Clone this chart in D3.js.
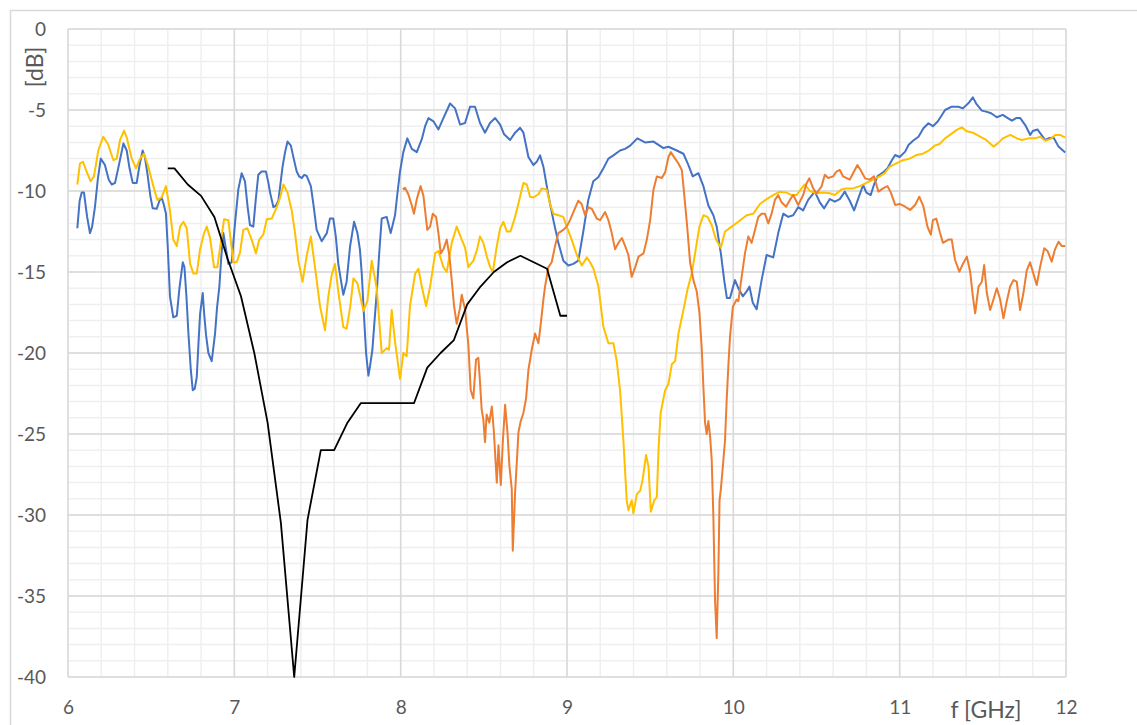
<!DOCTYPE html>
<html>
<head>
<meta charset="utf-8">
<script src="https://cdn.jsdelivr.net/npm/d3@7"></script>
<style>
  body { margin: 0; background: #fff; }
  .tick text { font-family: Lato, "Liberation Sans", sans-serif; font-size: 19px; fill: #595959; }
  .lbl { font-family: Lato, "Liberation Sans", sans-serif; font-size: 23px; fill: #595959; }
</style>
</head>
<body>
<div id="container"></div>
<script>
/* DATA  [f GHz, dB] */
const xTicks = [6, 7, 8, 9, 10, 11, 12]
const yTicks = [0, -5, -10, -15, -20, -25, -30, -35, -40]

const blue = [[6.056,-12.3],[6.07,-10.6],[6.082,-10.1],[6.096,-10.1],[6.115,-11.6],[6.132,-12.6],[6.145,-12.2],[6.162,-11.0],[6.18,-9.2],[6.197,-8.0],[6.222,-8.4],[6.245,-9.3],[6.263,-9.6],[6.283,-9.5],[6.31,-8.2],[6.333,-7.06],[6.353,-7.5],[6.37,-8.6],[6.389,-9.5],[6.413,-9.5],[6.43,-8.4],[6.449,-7.5],[6.462,-7.9],[6.477,-8.9],[6.495,-10.3],[6.509,-11.07],[6.533,-11.1],[6.55,-10.6],[6.563,-10.4],[6.575,-10.8],[6.589,-11.4],[6.6,-13.5],[6.613,-16.5],[6.633,-17.8],[6.654,-17.7],[6.67,-16.0],[6.69,-14.4],[6.70,-14.7],[6.712,-16.5],[6.724,-18.8],[6.738,-21.0],[6.75,-22.3],[6.762,-22.2],[6.774,-21.5],[6.784,-19.5],[6.794,-17.6],[6.81,-16.3],[6.818,-17.5],[6.83,-18.9],[6.844,-20.0],[6.864,-20.5],[6.884,-18.8],[6.896,-17.2],[6.91,-15.9],[6.922,-14.0],[6.934,-12.6],[6.95,-13.6],[6.964,-14.5],[6.984,-14.4],[7.004,-12.0],[7.024,-9.9],[7.044,-8.9],[7.064,-9.4],[7.08,-11.0],[7.094,-12.1],[7.114,-12.2],[7.13,-10.4],[7.144,-9.0],[7.164,-8.8],[7.19,-8.8],[7.205,-9.5],[7.215,-10.1],[7.235,-11.0],[7.25,-10.9],[7.265,-10.6],[7.278,-9.5],[7.29,-8.5],[7.305,-7.6],[7.32,-6.95],[7.34,-7.2],[7.357,-8.0],[7.375,-8.8],[7.39,-9.1],[7.405,-9.2],[7.42,-9.0],[7.435,-9.07],[7.46,-9.7],[7.475,-10.8],[7.495,-12.4],[7.525,-13.1],[7.556,-12.6],[7.575,-11.7],[7.595,-11.7],[7.61,-12.8],[7.625,-14.5],[7.655,-16.4],[7.675,-15.6],[7.696,-13.4],[7.72,-11.9],[7.74,-12.6],[7.755,-13.6],[7.766,-15.1],[7.78,-17.8],[7.792,-20.0],[7.806,-21.4],[7.816,-20.8],[7.83,-19.8],[7.843,-18.0],[7.856,-16.3],[7.87,-14.0],[7.886,-11.7],[7.916,-11.6],[7.94,-12.6],[7.966,-11.5],[7.98,-10.2],[7.996,-8.8],[8.016,-7.6],[8.04,-6.75],[8.067,-7.4],[8.097,-7.6],[8.127,-6.8],[8.147,-6.0],[8.167,-5.5],[8.197,-5.7],[8.227,-6.2],[8.257,-5.5],[8.297,-4.6],[8.327,-4.9],[8.357,-5.9],[8.387,-5.8],[8.417,-4.8],[8.447,-4.8],[8.477,-5.8],[8.507,-6.4],[8.537,-5.8],[8.568,-5.5],[8.598,-5.9],[8.622,-6.5],[8.658,-6.85],[8.688,-6.4],[8.718,-6.1],[8.738,-6.4],[8.768,-7.9],[8.798,-8.4],[8.818,-8.2],[8.838,-7.8],[8.858,-8.5],[8.888,-10.25],[8.918,-11.8],[8.948,-13.2],[8.978,-14.3],[9.008,-14.6],[9.038,-14.5],[9.068,-14.3],[9.098,-12.5],[9.128,-10.55],[9.158,-9.4],[9.188,-9.15],[9.219,-8.6],[9.249,-8.0],[9.279,-7.8],[9.319,-7.5],[9.349,-7.4],[9.38,-7.2],[9.423,-6.75],[9.469,-7.0],[9.52,-6.95],[9.58,-7.35],[9.61,-7.27],[9.66,-7.5],[9.7,-7.7],[9.73,-8.4],[9.756,-9.1],[9.79,-8.9],[9.82,-9.7],[9.85,-10.9],[9.88,-11.5],[9.9,-12.2],[9.925,-13.85],[9.945,-15.5],[9.961,-16.6],[9.98,-16.6],[10.01,-15.5],[10.03,-16.0],[10.057,-16.5],[10.08,-16.2],[10.097,-15.9],[10.117,-16.9],[10.14,-17.3],[10.17,-15.5],[10.2,-13.95],[10.24,-14.1],[10.27,-12.6],[10.3,-11.4],[10.33,-11.6],[10.36,-11.5],[10.39,-11.0],[10.42,-11.2],[10.45,-10.55],[10.49,-10.04],[10.52,-10.7],[10.546,-11.07],[10.58,-10.5],[10.61,-10.66],[10.64,-10.5],[10.67,-10.04],[10.70,-10.6],[10.726,-11.2],[10.75,-10.5],[10.78,-9.63],[10.80,-10.1],[10.826,-10.25],[10.846,-9.6],[10.867,-9.1],[10.90,-8.85],[10.927,-8.6],[10.953,-8.1],[10.973,-7.78],[11.0,-7.9],[11.033,-7.57],[11.053,-7.16],[11.08,-6.9],[11.113,-6.65],[11.143,-6.13],[11.173,-5.82],[11.20,-6.0],[11.23,-5.7],[11.273,-5.0],[11.31,-4.8],[11.353,-4.8],[11.38,-4.9],[11.413,-4.59],[11.44,-4.22],[11.46,-4.6],[11.494,-5.04],[11.52,-5.1],[11.55,-5.2],[11.584,-5.45],[11.62,-5.3],[11.65,-5.5],[11.675,-5.66],[11.70,-5.5],[11.725,-5.5],[11.755,-5.93],[11.785,-6.54],[11.80,-6.3],[11.828,-6.2],[11.85,-6.5],[11.875,-6.85],[11.895,-6.75],[11.925,-6.7],[11.955,-7.26],[11.995,-7.63]]

const yellow = [[6.056,-9.6],[6.072,-8.3],[6.09,-8.2],[6.112,-8.8],[6.136,-9.4],[6.156,-9.1],[6.182,-7.5],[6.212,-6.65],[6.24,-7.1],[6.273,-8.1],[6.293,-8.0],[6.313,-6.85],[6.337,-6.27],[6.353,-6.7],[6.383,-8.0],[6.409,-8.6],[6.433,-8.0],[6.457,-7.7],[6.483,-8.5],[6.513,-9.7],[6.537,-10.55],[6.563,-10.4],[6.589,-9.7],[6.613,-11.2],[6.633,-13.0],[6.654,-13.4],[6.674,-12.2],[6.694,-11.9],[6.714,-12.3],[6.734,-14.5],[6.754,-15.1],[6.774,-15.1],[6.794,-13.6],[6.818,-12.6],[6.834,-12.2],[6.854,-12.9],[6.878,-14.7],[6.898,-14.7],[6.918,-13.2],[6.938,-11.75],[6.964,-11.8],[6.978,-13.0],[6.994,-14.4],[7.014,-14.4],[7.034,-13.8],[7.054,-12.4],[7.078,-12.3],[7.104,-13.0],[7.13,-13.85],[7.15,-13.0],[7.174,-12.7],[7.195,-11.75],[7.225,-11.7],[7.255,-11.0],[7.275,-10.4],[7.295,-9.6],[7.32,-10.1],[7.345,-11.2],[7.365,-12.6],[7.385,-14.3],[7.41,-15.6],[7.435,-14.0],[7.46,-12.8],[7.485,-14.7],[7.515,-17.1],[7.545,-18.6],[7.565,-16.5],[7.585,-15.2],[7.605,-14.5],[7.625,-16.2],[7.655,-18.4],[7.675,-18.5],[7.696,-17.2],[7.716,-15.4],[7.74,-15.7],[7.776,-17.4],[7.80,-16.8],[7.826,-14.3],[7.856,-16.0],[7.886,-20.0],[7.916,-19.7],[7.93,-19.8],[7.946,-17.35],[7.966,-19.3],[7.996,-21.6],[8.016,-20.0],[8.036,-20.2],[8.056,-17.1],[8.087,-15.1],[8.107,-14.8],[8.127,-15.9],[8.153,-17.1],[8.177,-15.9],[8.207,-13.85],[8.227,-13.7],[8.257,-14.7],[8.277,-15.0],[8.307,-13.2],[8.337,-12.2],[8.367,-13.0],[8.387,-13.5],[8.407,-14.7],[8.437,-14.3],[8.457,-13.7],[8.477,-12.8],[8.497,-13.2],[8.518,-14.05],[8.538,-14.7],[8.554,-15.0],[8.578,-13.4],[8.598,-12.3],[8.618,-11.9],[8.638,-12.5],[8.66,-12.5],[8.688,-11.6],[8.713,-10.55],[8.738,-9.5],[8.758,-9.6],[8.778,-10.35],[8.798,-10.4],[8.828,-10.2],[8.848,-9.84],[8.878,-9.9],[8.898,-10.8],[8.918,-11.4],[8.948,-11.5],[8.978,-11.6],[8.998,-12.2],[9.028,-13.0],[9.059,-13.95],[9.089,-14.6],[9.119,-14.1],[9.139,-14.4],[9.159,-14.8],[9.189,-15.9],[9.219,-18.4],[9.249,-19.4],[9.279,-19.4],[9.299,-20.5],[9.319,-22.3],[9.339,-25.4],[9.359,-29.1],[9.369,-29.7],[9.389,-29.1],[9.399,-29.9],[9.42,-28.7],[9.44,-28.5],[9.455,-27.8],[9.475,-26.3],[9.49,-27.0],[9.504,-29.8],[9.524,-29.1],[9.54,-28.9],[9.55,-26.0],[9.563,-23.7],[9.59,-22.3],[9.61,-21.9],[9.63,-20.7],[9.65,-20.5],[9.67,-18.8],[9.70,-17.35],[9.724,-16.1],[9.75,-15.1],[9.77,-13.85],[9.796,-12.2],[9.82,-11.5],[9.845,-11.6],[9.87,-12.1],[9.896,-13.0],[9.925,-13.5],[9.95,-12.5],[9.99,-12.2],[10.03,-11.9],[10.08,-11.5],[10.12,-11.4],[10.16,-10.8],[10.2,-10.5],[10.24,-10.25],[10.28,-10.04],[10.32,-10.1],[10.35,-10.25],[10.38,-10.25],[10.41,-9.84],[10.43,-9.6],[10.46,-10.0],[10.5,-10.14],[10.54,-10.1],[10.58,-10.14],[10.61,-10.25],[10.65,-9.9],[10.68,-9.84],[10.72,-9.84],[10.76,-9.7],[10.80,-9.5],[10.84,-9.3],[10.88,-9.1],[10.91,-8.9],[10.94,-8.5],[10.98,-8.3],[11.02,-8.1],[11.06,-8.0],[11.10,-7.78],[11.14,-7.7],[11.18,-7.47],[11.21,-7.2],[11.24,-7.1],[11.273,-6.75],[11.30,-6.55],[11.343,-6.23],[11.374,-6.07],[11.40,-6.3],[11.44,-6.4],[11.484,-6.65],[11.52,-6.85],[11.564,-7.26],[11.59,-7.06],[11.62,-6.75],[11.665,-6.54],[11.705,-6.75],[11.735,-6.85],[11.775,-6.75],[11.815,-6.75],[11.845,-6.65],[11.875,-6.9],[11.905,-6.8],[11.935,-6.54],[11.965,-6.54],[11.995,-6.7]]

const orange = [[8.013,-9.9],[8.026,-9.8],[8.046,-10.2],[8.067,-10.9],[8.08,-11.4],[8.097,-10.5],[8.12,-9.7],[8.137,-10.3],[8.16,-12.4],[8.177,-12.2],[8.193,-11.4],[8.213,-11.6],[8.227,-12.6],[8.241,-13.85],[8.257,-13.6],[8.277,-13.0],[8.293,-14.0],[8.307,-15.5],[8.321,-17.1],[8.337,-18.2],[8.357,-17.2],[8.367,-16.4],[8.387,-17.3],[8.407,-19.5],[8.421,-22.3],[8.437,-22.8],[8.453,-20.4],[8.467,-20.3],[8.477,-21.8],[8.487,-23.5],[8.497,-24.1],[8.507,-25.5],[8.517,-23.8],[8.533,-24.3],[8.548,-23.3],[8.56,-24.8],[8.578,-28.0],[8.588,-25.7],[8.602,-28.15],[8.614,-25.5],[8.628,-23.2],[8.642,-24.9],[8.654,-27.0],[8.668,-28.4],[8.674,-32.2],[8.688,-28.6],[8.698,-26.8],[8.708,-24.9],[8.722,-24.2],[8.738,-23.7],[8.754,-22.8],[8.768,-21.05],[8.788,-19.8],[8.808,-18.8],[8.828,-19.4],[8.84,-18.4],[8.858,-16.7],[8.868,-15.9],[8.888,-14.7],[8.908,-14.4],[8.928,-13.4],[8.948,-12.6],[8.978,-12.4],[8.998,-12.2],[9.018,-11.8],[9.043,-11.2],[9.068,-10.6],[9.088,-10.8],[9.109,-11.5],[9.129,-11.0],[9.149,-11.1],[9.179,-11.7],[9.199,-11.8],[9.229,-11.3],[9.249,-11.8],[9.269,-12.6],[9.289,-13.6],[9.309,-13.2],[9.33,-12.9],[9.35,-13.4],[9.369,-13.95],[9.389,-15.3],[9.41,-14.7],[9.43,-14.05],[9.46,-13.85],[9.48,-13.0],[9.5,-11.8],[9.52,-9.9],[9.54,-9.1],[9.57,-9.2],[9.59,-8.85],[9.61,-7.9],[9.624,-7.6],[9.65,-8.0],[9.67,-8.3],[9.69,-8.7],[9.70,-9.7],[9.72,-11.9],[9.74,-14.4],[9.76,-15.5],[9.78,-16.2],[9.796,-17.5],[9.81,-19.7],[9.82,-22.1],[9.83,-24.3],[9.84,-25.0],[9.85,-24.2],[9.86,-25.1],[9.87,-26.6],[9.88,-30.1],[9.89,-35.25],[9.90,-37.6],[9.91,-33.6],[9.917,-29.1],[9.925,-28.4],[9.937,-27.0],[9.95,-25.4],[9.96,-22.9],[9.97,-20.8],[9.98,-19.0],[9.997,-17.14],[10.02,-16.7],[10.03,-16.8],[10.05,-15.3],[10.07,-13.85],[10.09,-12.8],[10.11,-13.2],[10.13,-12.4],[10.15,-11.6],[10.17,-11.4],[10.19,-11.4],[10.21,-12.0],[10.23,-11.4],[10.25,-10.55],[10.27,-10.25],[10.29,-10.7],[10.317,-10.97],[10.34,-10.55],[10.36,-10.25],[10.39,-10.86],[10.42,-10.25],[10.44,-9.53],[10.457,-9.22],[10.48,-9.84],[10.50,-10.14],[10.53,-9.73],[10.55,-9.0],[10.57,-9.2],[10.6,-9.1],[10.62,-8.8],[10.64,-8.7],[10.66,-9.1],[10.70,-9.3],[10.72,-8.9],[10.746,-8.4],[10.765,-8.7],[10.792,-9.22],[10.82,-9.3],[10.846,-9.1],[10.872,-10.04],[10.90,-9.84],[10.927,-9.7],[10.947,-10.1],[10.973,-10.86],[11.0,-10.8],[11.033,-10.97],[11.063,-11.17],[11.093,-10.86],[11.118,-10.35],[11.143,-10.97],[11.167,-12.2],[11.187,-12.7],[11.20,-11.8],[11.22,-11.7],[11.243,-12.6],[11.26,-13.2],[11.293,-13.0],[11.313,-13.0],[11.333,-14.26],[11.359,-14.98],[11.38,-14.5],[11.404,-14.05],[11.424,-15.0],[11.44,-16.5],[11.454,-17.55],[11.474,-15.9],[11.494,-15.6],[11.508,-14.57],[11.524,-16.3],[11.544,-17.35],[11.564,-16.7],[11.584,-16.0],[11.604,-16.7],[11.624,-17.86],[11.644,-16.8],[11.664,-15.9],[11.684,-15.5],[11.704,-15.6],[11.724,-17.35],[11.744,-16.3],[11.764,-14.9],[11.784,-14.4],[11.804,-15.1],[11.824,-15.8],[11.844,-14.7],[11.869,-13.54],[11.889,-13.7],[11.914,-14.36],[11.934,-13.6],[11.955,-13.13],[11.975,-13.4],[11.995,-13.4]]

const black = [[6.60,-8.6],[6.64,-8.6],[6.72,-9.6],[6.80,-10.3],[6.88,-11.6],[6.96,-14.2],[7.04,-16.5],[7.12,-20.0],[7.20,-24.3],[7.28,-30.5],[7.36,-40],[7.44,-30.3],[7.52,-26.0],[7.60,-26.0],[7.68,-24.3],[7.76,-23.1],[7.84,-23.1],[7.92,-23.1],[8.00,-23.1],[8.08,-23.1],[8.16,-20.9],[8.24,-20.0],[8.32,-19.2],[8.40,-17.0],[8.48,-15.9],[8.56,-15.0],[8.64,-14.4],[8.72,-14.0],[8.80,-14.4],[8.88,-14.8],[8.96,-17.7],[9.00,-17.7]]

const series = [
  {data: blue, color: "#4472C4", w: 2},
  {data: yellow, color: "#FFC000", w: 2},
  {data: orange, color: "#ED7D31", w: 2},
  {data: black, color: "#000000", w: 1.8}
]

/* LAYOUT */
const W = 1137, H = 725
const margin = {top: 29, right: 71, bottom: 48, left: 68}
const width = W - margin.left - margin.right
const height = H - margin.top - margin.bottom

const svg = d3.select("#container").append("svg")
  .attr("width", W).attr("height", H)

// chart border
svg.append("rect")
  .attr("x", 10.5).attr("y", 10.5)
  .attr("width", W + 20).attr("height", H + 20)
  .attr("fill", "none").attr("stroke", "#d9d9d9").attr("stroke-width", 1.5)

const g = svg.append("g").attr("transform", `translate(${margin.left},${margin.top})`)

/* SCALES */
const x = d3.scaleLinear().domain([6, 12]).range([0, width])
const y = d3.scaleLinear().domain([-40, 0]).range([height, 0])

// minor grid
g.append("g").selectAll("line").data(d3.range(6, 12.001, 0.2))
  .join("line")
  .attr("x1", d => x(d)).attr("x2", d => x(d))
  .attr("y1", 0).attr("y2", height)
  .attr("stroke", "#efefef").attr("stroke-width", 1.5)
g.append("g").selectAll("line").data(d3.range(-40, 0.001, 1))
  .join("line")
  .attr("x1", 0).attr("x2", width)
  .attr("y1", d => y(d)).attr("y2", d => y(d))
  .attr("stroke", "#efefef").attr("stroke-width", 1.5)

// major grid
g.append("g").selectAll("line").data(xTicks)
  .join("line")
  .attr("x1", d => x(d)).attr("x2", d => x(d))
  .attr("y1", 0).attr("y2", height)
  .attr("stroke", "#d9d9d9").attr("stroke-width", 1.5)
g.append("g").selectAll("line").data(yTicks)
  .join("line")
  .attr("x1", 0).attr("x2", width)
  .attr("y1", d => y(d)).attr("y2", d => y(d))
  .attr("stroke", "#d9d9d9").attr("stroke-width", 1.5)

// axes (plain hyphen, integer labels)
const yAxis = g.append("g")
  .call(d3.axisLeft(y).tickValues(yTicks).tickSize(0).tickPadding(22)
    .tickFormat(d => String(d)))
yAxis.select(".domain").remove()

const xAxis = g.append("g")
  .attr("transform", `translate(0,${height})`)
  .call(d3.axisBottom(x).tickValues(xTicks).tickSize(0).tickPadding(24)
    .tickFormat(d => String(d)))
xAxis.select(".domain").remove()

// axis titles
svg.append("text").attr("class", "lbl")
  .attr("x", 986).attr("y", 718).attr("text-anchor", "middle")
  .text("f [GHz]")
svg.append("text").attr("class", "lbl")
  .attr("transform", "translate(43,67) rotate(-90)")
  .attr("text-anchor", "middle")
  .text("[dB]")

/* LINES */
const line = d3.line()
  .x(d => x(d[0]))
  .y(d => y(d[1]))

g.selectAll(".series").data(series)
  .join("path")
  .attr("class", "series")
  .attr("fill", "none")
  .attr("stroke", d => d.color)
  .attr("stroke-width", d => d.w)
  .attr("stroke-linejoin", "round")
  .attr("d", d => line(d.data))
</script>
</body>
</html>
